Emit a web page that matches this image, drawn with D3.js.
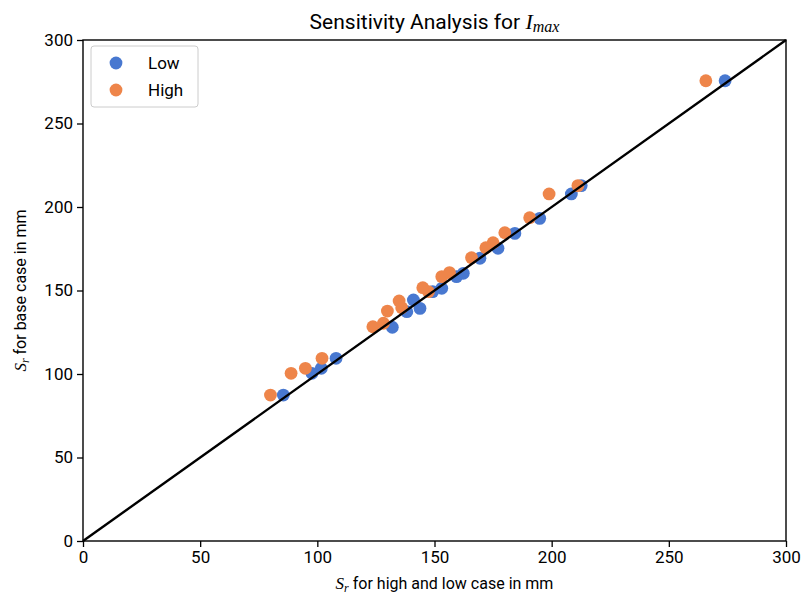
<!DOCTYPE html>
<html>
<head>
<meta charset="utf-8">
<script src="https://cdn.jsdelivr.net/npm/d3@7"></script>
<style>
  body { margin: 0; background: #fff; }
  text { font-family: Roboto, "DejaVu Sans", sans-serif; }
  .math { font-family: "Liberation Serif", "DejaVu Serif", serif; font-style: italic; }
</style>
</head>
<body>
<svg id="chart" width="801" height="596"></svg>
<script>
// DATA (x = high/low case, y = base case)
const lowX  = [274, 212.6, 208.4, 194.9, 184.3, 177.1, 169.4, 162.3, 159.4, 153.1, 149.2, 143.8, 141, 138.2, 132, 108, 101.7, 97.7, 85.5];
const lowY  = [275.6, 212.8, 207.8, 193.2, 184.2, 175.3, 169.3, 160.3, 158.3, 151.3, 149.3, 139.3, 144.3, 137.3, 128, 109.4, 103.4, 100.4, 87.4];
const highX = [265.8, 211.2, 198.9, 190.6, 180, 175, 171.9, 165.8, 156.4, 153.1, 147.4, 145, 136, 134.9, 129.9, 128.2, 123.7, 102, 94.9, 88.8, 80];
const highY = [275.6, 212.8, 207.8, 193.6, 184.6, 178.6, 175.6, 169.6, 160.7, 158.3, 149.3, 151.7, 139.7, 143.7, 137.7, 130.4, 128.3, 109.4, 103.4, 100.4, 87.4];
const tickVals = [0, 50, 100, 150, 200, 250, 300];
const seriesNames = ["Low", "High"];
const seriesColors = ["#4878d0", "#ee854a"];

const svg = d3.select("#chart");
const pLeft = 83, pRight = 786, pTop = 40, pBottom = 541;

const x = d3.scaleLinear().domain([0, 300]).range([pLeft, pRight]);
const y = d3.scaleLinear().domain([0, 300]).range([pBottom, pTop]);

// title
const title = svg.append("text")
    .attr("x", (pLeft + pRight) / 2).attr("y", 29)
    .attr("text-anchor", "middle").style("font-size", "21px").attr("fill", "#000");
title.append("tspan").text("Sensitivity Analysis for ");
title.append("tspan").attr("class", "math").style("font-size", "22px").text("I");
title.append("tspan").attr("class", "math").style("font-size", "16px").attr("dy", 3).text("max");

// points
const series = [
    {name: seriesNames[0], xs: lowX, ys: lowY, color: seriesColors[0]},
    {name: seriesNames[1], xs: highX, ys: highY, color: seriesColors[1]}
];
series.forEach(function(s){
    svg.append("g").selectAll("circle")
        .data(s.xs.map(function(v, i){ return [v, s.ys[i]]; }))
        .enter().append("circle")
        .attr("cx", function(d){ return x(d[0]); })
        .attr("cy", function(d){ return y(d[1]); })
        .attr("r", 6.4)
        .attr("fill", s.color);
});

// 1:1 line
svg.append("line")
    .attr("x1", x(0)).attr("y1", y(0))
    .attr("x2", x(300)).attr("y2", y(300))
    .attr("stroke", "#000").attr("stroke-width", 2.4);

// axes
const xAxis = svg.append("g").attr("transform", "translate(0," + pBottom + ")")
    .call(d3.axisBottom(x).tickValues(tickVals).tickSize(6).tickPadding(4));
const yAxis = svg.append("g").attr("transform", "translate(" + pLeft + ",0)")
    .call(d3.axisLeft(y).tickValues(tickVals).tickSize(6).tickPadding(4));
[xAxis, yAxis].forEach(function(a){
    a.select(".domain").remove();
    a.selectAll("text").style("font-size", "17px").attr("fill", "#000")
        .style("font-family", "Roboto, sans-serif");
    a.selectAll("line").attr("stroke", "#000").attr("stroke-width", 1.3);
});

// frame
svg.append("rect")
    .attr("x", pLeft).attr("y", pTop)
    .attr("width", pRight - pLeft).attr("height", pBottom - pTop)
    .attr("fill", "none").attr("stroke", "#000").attr("stroke-width", 1.4);

// axis labels
const xl = svg.append("text")
    .attr("x", (pLeft + pRight) / 2 + 10).attr("y", 589)
    .attr("text-anchor", "middle").style("font-size", "16px");
xl.append("tspan").attr("class", "math").style("font-size", "17px").text("S");
xl.append("tspan").attr("class", "math").style("font-size", "12px").attr("dy", 3).text("r");
xl.append("tspan").attr("dy", -3).text(" for high and low case in mm");

const yl = svg.append("text")
    .attr("transform", "translate(26," + ((pTop + pBottom) / 2) + ") rotate(-90)")
    .attr("text-anchor", "middle").style("font-size", "16px");
yl.append("tspan").attr("class", "math").style("font-size", "17px").text("S");
yl.append("tspan").attr("class", "math").style("font-size", "12px").attr("dy", 3).text("r");
yl.append("tspan").attr("dy", -3).text(" for base case in mm");

// legend
const lg = svg.append("g").attr("transform", "translate(91,46)");
lg.append("rect").attr("width", 107).attr("height", 61).attr("rx", 3)
    .attr("fill", "#fff").attr("fill-opacity", 0.8)
    .attr("stroke", "#ccc").attr("stroke-width", 1);
series.forEach(function(s, i){
    lg.append("circle").attr("cx", 25).attr("cy", 17 + i * 27).attr("r", 6.4).attr("fill", s.color);
    lg.append("text").attr("x", 57).attr("y", 17 + i * 27 + 6)
        .style("font-size", "17px").text(s.name);
});
</script>
</body>
</html>
